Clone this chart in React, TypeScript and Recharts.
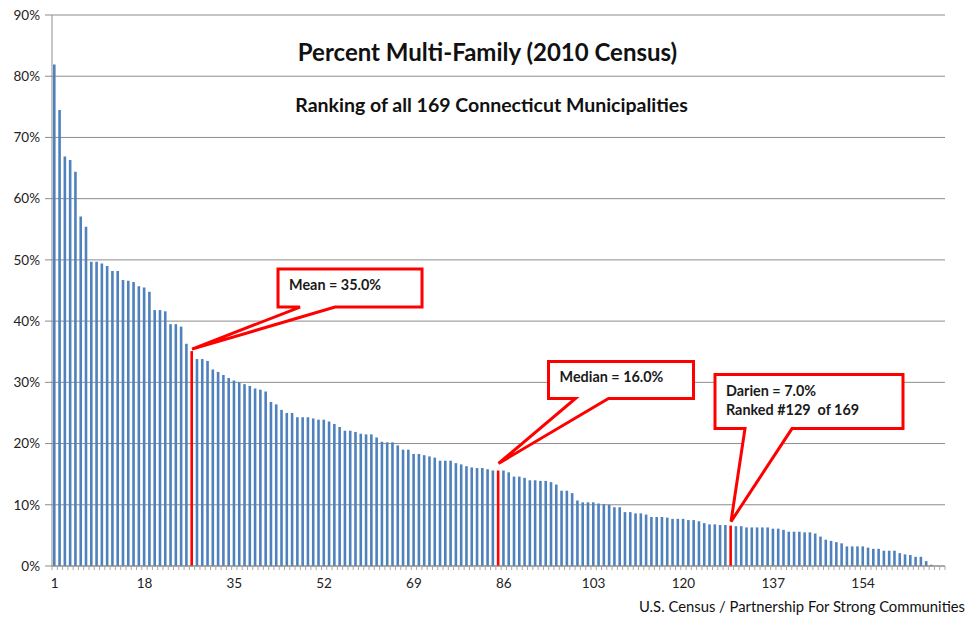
import React from "react";
import { BarChart, Bar, XAxis, YAxis, CartesianGrid, Cell, ReferenceDot } from "recharts";

const values: number[] = [
  81.9, 74.5, 66.9, 66.3, 64.4, 57.1, 55.4, 49.7, 49.7, 49.4,
  49.0, 48.2, 48.2, 46.7, 46.6, 46.4, 45.7, 45.5, 44.8, 41.8,
  41.8, 41.6, 39.5, 39.5, 39.1, 36.3, 35.1, 33.8, 33.8, 33.5,
  32.1, 31.7, 31.2, 30.7, 30.3, 30.0, 29.7, 29.4, 29.0, 28.8,
  28.5, 26.8, 26.4, 25.5, 25.0, 25.0, 24.3, 24.3, 24.3, 24.1,
  23.9, 23.9, 23.6, 23.2, 22.7, 22.1, 22.1, 21.9, 21.6, 21.5,
  21.5, 21.0, 20.3, 20.2, 20.2, 19.7, 19.0, 19.0, 18.3, 18.3,
  18.1, 17.9, 17.7, 17.2, 17.2, 17.2, 16.8, 16.6, 16.3, 16.1,
  16.0, 16.0, 15.8, 15.6, 15.6, 15.6, 15.3, 14.6, 14.6, 14.4,
  14.0, 14.0, 13.9, 13.9, 13.7, 13.3, 12.3, 12.3, 11.9, 10.7,
  10.4, 10.4, 10.4, 10.2, 10.1, 10.0, 9.6, 9.6, 8.8, 8.8,
  8.6, 8.6, 8.4, 8.0, 8.0, 8.0, 7.9, 7.7, 7.7, 7.7,
  7.5, 7.5, 7.3, 7.0, 6.8, 6.8, 6.7, 6.7, 6.6, 6.5,
  6.5, 6.3, 6.3, 6.3, 6.3, 6.3, 6.1, 6.1, 5.9, 5.6,
  5.6, 5.6, 5.5, 5.5, 5.3, 4.8, 4.3, 4.1, 3.9, 3.7,
  3.2, 3.2, 3.2, 3.2, 3.0, 2.8, 2.8, 2.5, 2.5, 2.5,
  2.1, 1.9, 1.8, 1.5, 1.5, 0.8, 0.2, 0, 0,
];

const ranks: number[] = values.map((_, i) => i + 1);
const highlightedRanks: number[] = [27, 85, 129];
const xTickLabels: number[] = [1, 18, 35, 52, 69, 86, 103, 120, 137, 154];
const yTicks: number[] = [0, 10, 20, 30, 40, 50, 60, 70, 80, 90];

const calloutRanks: number[] = [27, 85, 129];
const calloutTexts: string[][] = [
  ["Mean = 35.0%"],
  ["Median = 16.0%"],
  ["Darien = 7.0%", "Ranked #129\u00a0 of 169"],
];

const title = "Percent Multi-Family (2010 Census)";
const subtitle = "Ranking of all 169 Connecticut Municipalities";
const source = "U.S. Census / Partnership For Strong Communities";

const data = ranks.map((r, i) => ({ rank: r, value: values[i] }));

const W = 977;
const H = 617;
const PLOT_LEFT = 52;
const PLOT_RIGHT = 945;
const BAND = (PLOT_RIGHT - PLOT_LEFT) / values.length;
const FONT = "Lato, 'Open Sans', sans-serif";

// layout of callout boxes relative to the bar top (cx, cy)
const calloutLayouts = [
  { tipDy: -2, left: 86, right: 230, top: -82, bottom: -44, b1: 108, b2: 143 },
  { tipDy: -7, left: 50, right: 195, top: -109, bottom: -72, b1: 77, b2: 110 },
  { tipDy: -4, left: -16, right: 172, top: -151, bottom: -97, b1: 14, b2: 61 },
];

const makeCallout = (idx: number) => (props: any) => {
  const { cx, cy } = props;
  if (cx == null || cy == null) return <g />;
  const L = calloutLayouts[idx];
  const tx = cx;
  const ty = cy + L.tipDy;
  const x0 = cx + L.left;
  const x1 = cx + L.right;
  const y0 = cy + L.top;
  const y1 = cy + L.bottom;
  const d = `M${x0},${y0} L${x1},${y0} L${x1},${y1} L${cx + L.b2},${y1} L${tx},${ty} L${cx + L.b1},${y1} L${x0},${y1} Z`;
  return (
    <g>
      <path d={d} fill="#ffffff" stroke="#ff0000" strokeWidth={3} strokeLinejoin="miter" />
      {calloutTexts[idx].map((t, k) => (
        <text
          key={k}
          x={x0 + 11}
          y={y0 + 21 + k * 19}
          fontFamily={FONT}
          fontWeight={700}
          fontSize={14.4}
          fill="#1a1a1a"
        >
          {t}
        </text>
      ))}
    </g>
  );
};

const XTick = (props: any) => {
  const { x, y, payload } = props;
  const v = payload.value as number;
  const show = xTickLabels.includes(v);
  return (
    <g>
      <line x1={x - BAND / 2} x2={x - BAND / 2} y1={y} y2={y + 4} stroke="#a6a6a6" strokeWidth={1} />
      {v === values.length && (
        <line x1={x + BAND / 2} x2={x + BAND / 2} y1={y} y2={y + 4} stroke="#a6a6a6" strokeWidth={1} />
      )}
      {show && (
        <text x={x} y={y + 22} textAnchor="middle" fontFamily={FONT} fontSize={13.5} fill="#222">
          {v}
        </text>
      )}
    </g>
  );
};

export default function App() {
  return (
    <div style={{ position: "absolute", left: 0, top: 0, width: W, height: H, background: "#fff" }}>
      <BarChart
        width={W}
        height={H}
        data={data}
        margin={{ top: 15, right: W - PLOT_RIGHT, left: 0, bottom: 21 }}
        barSize={2.6}
      >
        <CartesianGrid vertical={false} stroke="#8c8c8c" strokeWidth={1} />
        <XAxis
          dataKey="rank"
          interval={0}
          tickLine={false}
          tickSize={0}
          tickMargin={0}
          height={30}
          stroke="#8c8c8c"
          tick={<XTick />}
        />
        <YAxis
          width={PLOT_LEFT}
          domain={[0, 90]}
          ticks={yTicks}
          tickFormatter={(v: number) => `${v}%`}
          tickSize={7}
          tickMargin={5}
          stroke="#8c8c8c"
          tick={{ fontFamily: FONT, fontSize: 13.5, fill: "#222" }}
          interval={0}
        />
        <Bar dataKey="value" isAnimationActive={false} fill="#4f81bd">
          {data.map((d) => (
            <Cell key={d.rank} fill={highlightedRanks.includes(d.rank) ? "#ff0000" : "#4f81bd"} />
          ))}
        </Bar>
        {calloutRanks.map((r, i) => (
          <ReferenceDot
            key={r}
            x={r}
            y={values[r - 1]}
            r={0}
            ifOverflow="visible"
            shape={makeCallout(i)}
          />
        ))}
      </BarChart>
      <div
        style={{
          position: "absolute",
          left: 0,
          width: W,
          top: 37,
          textAlign: "center",
          fontFamily: FONT,
          fontWeight: 700,
          fontSize: 24,
          color: "#111",
        }}
      >
        <span style={{ position: "relative", left: -1 }}>{title}</span>
      </div>
      <div
        style={{
          position: "absolute",
          left: 0,
          width: W,
          top: 93,
          textAlign: "center",
          fontFamily: FONT,
          fontWeight: 700,
          fontSize: 19.5,
          color: "#111",
        }}
      >
        <span style={{ position: "relative", left: 3 }}>{subtitle}</span>
      </div>
      <div
        style={{
          position: "absolute",
          right: 12,
          top: 597,
          fontFamily: FONT,
          fontSize: 14.8,
          color: "#111",
          whiteSpace: "nowrap",
        }}
      >
        {source}
      </div>
    </div>
  );
}
